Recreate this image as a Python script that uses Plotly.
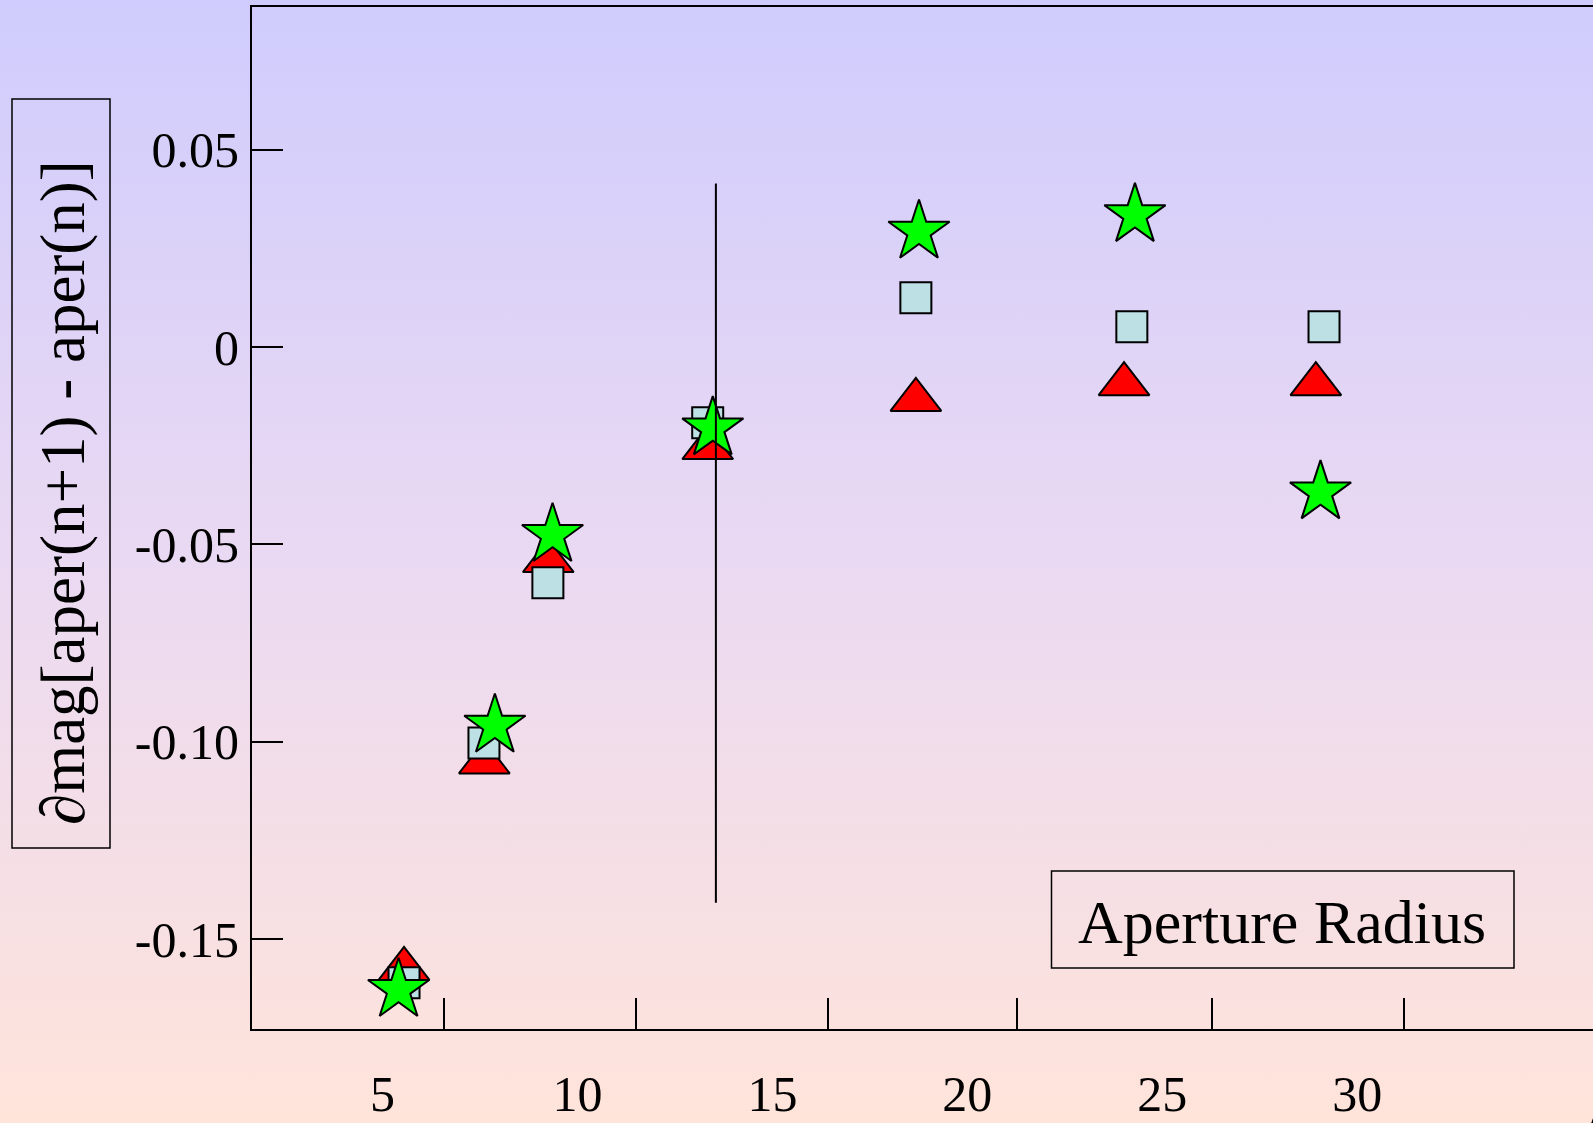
import base64
import plotly.graph_objects as go

# ---- data ----
tri_x = [5.55, 7.61, 9.25, 13.34, 18.68, 24.02, 28.94]
tri_y = [-0.1575, -0.1052, -0.0542, -0.0256, -0.0134, -0.0094, -0.0094]
sq_x = [5.55, 7.60, 9.24, 13.34, 18.68, 24.22, 29.15]
sq_y = [-0.161, -0.1003, -0.0597, -0.0192, 0.0125, 0.0051, 0.0051]
star_x = [5.41, 7.88, 9.36, 13.47, 18.76, 24.30, 29.06]
star_y = [-0.1628, -0.0959, -0.0476, -0.0206, 0.0292, 0.0334, -0.0368]
vline_x = [13.55, 13.55]
vline_y = [0.0414, -0.1407]

x_tick_vals = [5, 10, 15, 20, 25, 30]
x_tick_text = ["5", "10", "15", "20", "25", "30"]
x_mark_vals = [6.575, 11.50, 16.43, 21.28, 26.28, 31.21]
y_tick_vals = [0.05, 0, -0.05, -0.10, -0.15]
y_tick_text = ["0.05", "0", "-0.05", "-0.10", "-0.15"]

x_range = [1.65, 36.05]
y_range = [-0.1727, 0.0861]

y_title = "\u2202mag[aper(n+1) - aper(n)]"
box_label = "Aperture Radius"

W, H = 1593, 1123
ML, MR, MT, MB = 252, 0, 7, 94
PW, PH = W - ML - MR, H - MT - MB

FONT = "Liberation Serif, Times New Roman, serif"

def px_x(p):
    return (p - ML) / PW

def px_y(p):
    return (H - MB - p) / PH

fig = go.Figure()

fig.add_trace(go.Scatter(
    x=tri_x, y=tri_y, mode="markers", showlegend=False,
    marker=dict(symbol="triangle-up", size=44, color="#FF0000",
                line=dict(color="black", width=2))))
fig.add_trace(go.Scatter(
    x=sq_x, y=sq_y, mode="markers", showlegend=False,
    marker=dict(symbol="square", size=31, color="#BCE0E3",
                line=dict(color="black", width=2))))
fig.add_trace(go.Scatter(
    x=star_x, y=star_y, mode="markers", showlegend=False,
    marker=dict(symbol="star", size=46, color="#00FF00",
                line=dict(color="black", width=2))))
fig.add_trace(go.Scatter(
    x=vline_x, y=vline_y, mode="lines", showlegend=False,
    xaxis="x2", yaxis="y",
    line=dict(color="black", width=2)))

# gradient background as an SVG image
svg = (f'<svg xmlns="http://www.w3.org/2000/svg" width="{W}" height="{H}" '
       f'viewBox="0 0 {W} {H}" preserveAspectRatio="none">'
       '<defs><linearGradient id="g" x1="0" y1="0" x2="0" y2="1">'
       '<stop offset="0" stop-color="#CFCCFD"/>'
       '<stop offset="0.5" stop-color="#EAD9F2"/>'
       '<stop offset="1" stop-color="#FFE4DA"/>'
       '</linearGradient></defs>'
       f'<rect x="0" y="0" width="{W}" height="{H}" fill="url(#g)"/></svg>')
uri = "data:image/svg+xml;base64," + base64.b64encode(svg.encode()).decode()

fig.update_layout(
    width=W, height=H,
    margin=dict(l=ML, r=MR, t=MT, b=MB, pad=0, autoexpand=False),
    paper_bgcolor="#FFE4DA",
    plot_bgcolor="rgba(0,0,0,0)",
    font=dict(family=FONT, color="black", size=50),
    images=[dict(source=uri, xref="paper", yref="paper",
                 x=px_x(0), y=px_y(0), sizex=W / PW, sizey=H / PH,
                 xanchor="left", yanchor="top", sizing="stretch",
                 layer="below")],
    xaxis=dict(range=x_range, showgrid=False, zeroline=False, automargin=False,
               showline=True, linecolor="black", linewidth=2, mirror=True,
               tickmode="array", tickvals=x_tick_vals, ticktext=x_tick_text,
               ticks="", ticklabelstandoff=20,
               tickfont=dict(family=FONT, size=50, color="black")),
    xaxis2=dict(range=x_range, overlaying="x", anchor="y", side="bottom",
                automargin=False,
                showgrid=False, zeroline=False, showline=False,
                tickmode="array", tickvals=x_mark_vals,
                showticklabels=False, ticks="inside", ticklen=31,
                tickwidth=1.5, tickcolor="black"),
    yaxis=dict(range=y_range, showgrid=False, zeroline=False, automargin=False,
               showline=True, linecolor="black", linewidth=2, mirror=False,
               tickmode="array", tickvals=y_tick_vals, ticktext=y_tick_text,
               ticks="inside", ticklen=31, tickwidth=1.5, tickcolor="black",
               ticklabelstandoff=1,
               tickfont=dict(family=FONT, size=50, color="black")),
    shapes=[
        dict(type="rect", xref="paper", yref="paper",
             x0=px_x(12), x1=px_x(110), y0=px_y(848), y1=px_y(99),
             line=dict(color="black", width=1.5), fillcolor="rgba(0,0,0,0)"),
        dict(type="rect", xref="paper", yref="paper",
             x0=px_x(1051.5), x1=px_x(1514), y0=px_y(968), y1=px_y(871),
             line=dict(color="black", width=1.5), fillcolor="rgba(0,0,0,0)"),
    ],
    annotations=[
        dict(text=y_title, textangle=-90, xref="paper", yref="paper",
             x=px_x(63), y=px_y(493), xanchor="center", yanchor="middle",
             showarrow=False, font=dict(family=FONT, size=63, color="black")),
        dict(text=box_label, xref="paper", yref="paper",
             x=px_x(1282), y=px_y(922), xanchor="center", yanchor="middle",
             showarrow=False, font=dict(family=FONT, size=62, color="black")),
        dict(text="A", xref="paper", yref="paper",
             x=px_x(1580), y=px_y(1092), xanchor="left", yanchor="top",
             showarrow=False, font=dict(family=FONT, size=50, color="black")),
    ],
)

fig.write_html("out.html")
